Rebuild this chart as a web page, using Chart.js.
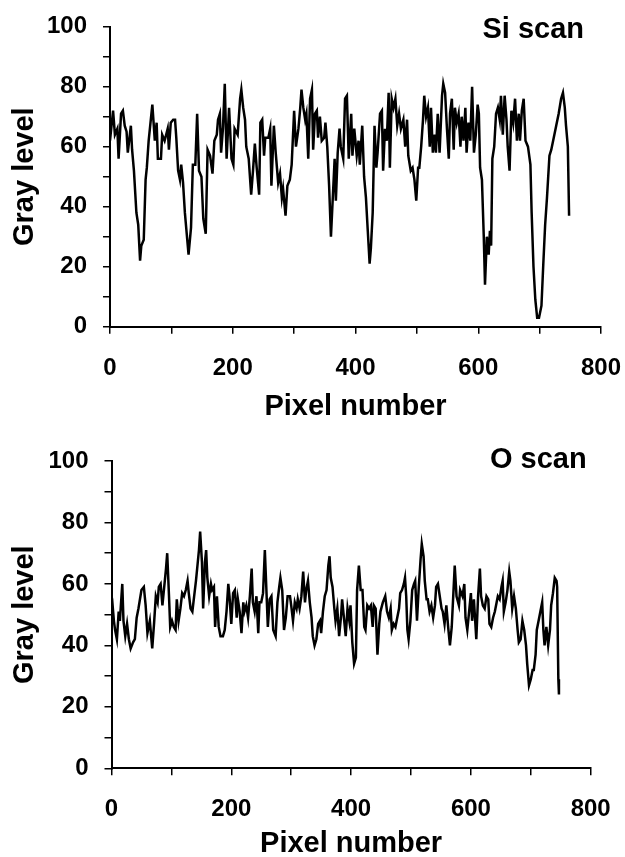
<!DOCTYPE html>
<html>
<head>
<meta charset="utf-8">
<script src="https://cdn.jsdelivr.net/npm/chart.js@4/dist/chart.umd.min.js"></script>
<style>
  body { margin: 0; background: #fff; }
  canvas { position: absolute; left: 0; }
</style>
</head>
<body>
<canvas id="chartSi" width="625" height="430" style="top:0px"></canvas>
<canvas id="chartO" width="625" height="427" style="top:430px"></canvas>
<script>
// Si line scan (pixel number, gray level)
const siX = [0,5,8,12,14,18,21,24,27,29,34,36,39,43,46,49,51,55,58,60,63,66,69,73,76,78,83,85,89,94,96,99,103,106,108,111,114,116,119,122,125,128,132,135,139,142,145,149,152,156,159,163,167,170,174,176,179,181,184,187,190,194,198,
  201,203,208,212,214,217,220,222,226,230,233,236,239,243,245,248,251,253,258,261,263,267,270,274,277,280,282,286,289,293,296,300,303,307,310,312,315,318,320,323,326,329,331,334,337,339,342,345,349,351,354,357,360,363,366,368,371,374,376,380,383,386,389,393,395,
  398,402,405,407,411,414,417,420,423,425,428,431,434,436,440,443,445,448,451,454,456,459,462,465,468,471,474,478,481,484,486,490,493,496,499,502,504,507,510,512,515,518,521,523,526,529,531,534,537,541,543,546,549,552,554,557,560,562,565,568,571,573,576,579,581,584,587,
  590,593,596,599,601,603,606,609,611,614,617,619,621,623,626,629,632,635,637,640,643,646,648,651,654,657,660,663,666,668,671,674,677,681,685,687,690,693,696,699,703,706,709,712,716,719,723,727,731,735,738,741,743,746,748];
const siY = [62,72,64,66,56,71,72,67,65,58,67,59,52,38,34,22,27,29,49,53,62,68,74,62,68,56,56,64,62,66,59,68,69,69,63,52,49,54,48,38,31,24,33,54,54,71,52,50,36,31,59,57,51,62,64,69,71,58,66,81,56,73,56,
  54,66,64,76,79,73,69,60,56,44,52,61,53,44,68,69,57,63,63,66,47,67,58,48,51,43,46,37,47,49,54,72,60,66,73,79,73,69,71,56,76,79,59,71,72,63,70,62,63,68,60,47,30,43,56,42,58,66,60,56,76,77,56,71,57,
  66,57,62,54,67,50,43,32,21,26,38,67,53,58,71,72,52,66,62,78,53,76,73,76,67,71,66,69,60,69,57,52,53,49,42,53,53,60,69,77,70,73,60,73,58,64,58,71,58,77,81,78,66,56,71,76,59,73,68,71,60,70,62,73,58,68,62,
  80,58,64,74,71,53,49,30,14,30,24,32,27,56,60,71,73,69,77,64,77,69,60,52,72,68,76,62,71,62,72,76,62,60,54,38,20,9,3,3,7,21,34,43,57,59,63,67,71,76,78,73,67,60,37];

// O line scan (pixel number, gray level)
const oX = [0,1,4,6,9,12,14,18,20,23,26,29,32,36,39,42,45,50,54,57,60,64,68,71,74,77,79,82,85,88,91,93,96,98,101,104,107,109,112,115,118,121,124,127,129,132,135,138,141,143,146,148,151,153,156,158,160,163,166,168,171,173,176,179,182,186,189,192,195,197,200,203,206,209,211,214,217,220,222,225,228,231,234,236,239,242,245,247,250,253,256,259,261,264,267,270,
  274,277,280,282,285,288,291,294,298,300,303,306,309,311,314,317,320,323,325,328,331,334,336,339,342,345,348,350,353,356,359,362,364,366,369,372,374,377,380,383,385,388,391,394,397,399,402,405,408,410,413,416,419,422,424,427,430,433,436,438,441,444,447,449,453,457,460,463,466,468,471,474,477,480,482,485,488,490,492,494,496,499,502,505,507,510,513,516,518,521,523,526,528,531,
  534,537,540,542,545,548,551,553,556,559,562,565,568,571,573,576,580,582,586,589,591,594,597,600,602,605,609,612,615,617,620,623,626,629,631,634,637,640,643,645,648,651,653,655,658,661,664,666,669,672,675,678,680,683,686,689,692,694,697,700,703,705,708,710,713,716,719,721,723,726,729,732,734,737,740,743,744,746,747];
const oY = [56,55,48,45,42,51,48,60,48,43,47,42,39,41,42,49,52,58,59,53,44,48,39,47,56,54,59,60,53,59,65,70,56,46,48,46,45,55,48,52,57,56,58,61,57,52,51,56,61,65,71,77,67,52,67,71,62,56,60,58,59,46,56,46,43,43,45,51,60,56,47,57,58,49,55,51,44,54,51,53,49,56,65,54,51,56,44,54,54,57,71,56,46,55,56,45,
  43,54,59,62,58,45,49,56,56,53,48,54,52,55,52,56,64,54,58,61,54,49,43,40,42,47,48,44,51,56,58,66,69,62,59,52,48,52,43,49,55,49,43,52,48,53,41,34,36,58,66,58,58,46,45,53,52,53,46,53,52,37,47,51,54,56,51,49,52,45,47,46,49,52,57,58,60,62,56,45,42,48,58,60,61,48,59,68,73,69,61,55,55,51,
  53,49,53,59,60,56,52,51,47,53,46,40,46,58,66,56,53,58,56,60,49,45,51,57,48,55,42,56,65,56,53,52,56,55,47,46,49,51,54,56,55,59,61,51,54,58,64,61,52,56,52,45,41,42,48,45,40,34,27,29,32,32,37,45,48,51,54,45,40,46,40,45,53,57,62,61,59,29,24];

const xLabels = [0, 200, 400, 600, 800];
const yLabels = [0, 20, 40, 60, 80, 100];

const FONT = '"Liberation Sans", Arial, sans-serif';

const cornerLabel = {
  id: 'cornerLabel',
  afterDraw(chart, args, opts) {
    const { ctx, chartArea } = chart;
    ctx.save();
    ctx.font = 'bold 29px ' + FONT;
    ctx.fillStyle = '#000';
    ctx.textAlign = 'right';
    ctx.textBaseline = 'middle';
    ctx.fillText(opts.text, chartArea.right - opts.dx, chartArea.top + opts.dy);
    ctx.restore();
  }
};

function makeChart(id, xs, ys, g) {
  const pts = xs.map((x, i) => ({ x: x, y: ys[i] }));
  const ctx = document.getElementById(id).getContext('2d');
  return new Chart(ctx, {
    type: 'scatter',
    data: {
      datasets: [{
        data: pts,
        showLine: true,
        borderColor: '#000',
        borderWidth: 2.5,
        pointRadius: 0,
        tension: 0
      }]
    },
    options: {
      responsive: false,
      animation: false,
      layout: { padding: { top: g.top, right: g.right, bottom: 0, left: 0 } },
      plugins: {
        legend: { display: false },
        tooltip: { enabled: false },
        cornerLabel: { text: g.label, dx: g.dx, dy: g.dy }
      },
      scales: {
        x: {
          type: 'linear',
          min: 0,
          max: 800,
          // fixed axis box so the plot area lands where the reference has it
          afterFit: (s) => { s.height = g.xHeight; s.paddingLeft = 0; s.paddingRight = 0; },
          border: { color: '#000', width: 2 },
          grid: { drawOnChartArea: false, drawTicks: true, tickLength: 7, color: '#000', lineWidth: 1.5 },
          ticks: {
            stepSize: 100,
            autoSkip: false,
            maxRotation: 0,
            padding: 20,
            color: '#000',
            font: { family: FONT, size: 24, weight: 'bold' },
            callback: (v) => xLabels.includes(v) ? v : ''
          },
          title: {
            display: true,
            text: 'Pixel number',
            color: '#000',
            font: { family: FONT, size: 29, weight: 'bold', lineHeight: 1 },
            padding: { top: 0, bottom: g.xTitlePad }
          }
        },
        y: {
          min: 0,
          max: 100,
          afterFit: (s) => { s.width = g.yWidth; s.paddingTop = 0; s.paddingBottom = 0; },
          border: { color: '#000', width: 2 },
          grid: { drawOnChartArea: false, drawTicks: true, tickLength: 7, color: '#000', lineWidth: 1.5 },
          ticks: {
            stepSize: 10,
            autoSkip: false,
            padding: 16,
            color: '#000',
            font: { family: FONT, size: 24, weight: 'bold' },
            callback: (v) => yLabels.includes(v) ? v : ''
          },
          title: {
            display: true,
            text: 'Gray level',
            color: '#000',
            font: { family: FONT, size: 29, weight: 'bold', lineHeight: 1 },
            padding: { top: 10.5, bottom: 0 }
          }
        }
      }
    },
    plugins: [cornerLabel]
  });
}

makeChart('chartSi', siX, siY, {
  top: 26.7, right: 24, xHeight: 103.3, yWidth: 110, xTitlePad: 9,
  label: 'Si scan', dx: 17, dy: 3.3
});
makeChart('chartO', oX, oY, {
  top: 31, right: 34.3, xHeight: 88.7, yWidth: 111.5, xTitlePad: -1,
  label: 'O scan', dx: 4, dy: -1.5
});
</script>
</body>
</html>
